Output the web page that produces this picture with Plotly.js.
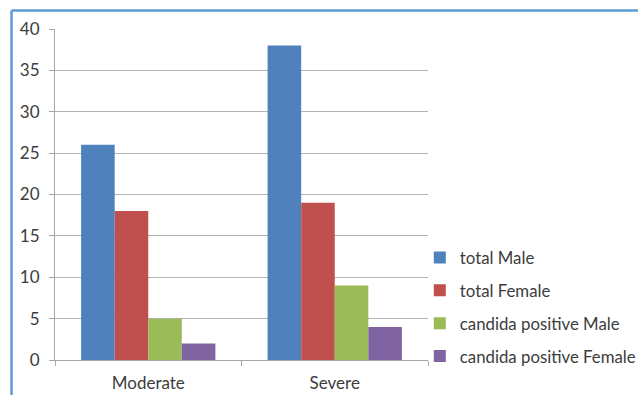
<!DOCTYPE html>
<html>
<head>
<meta charset="utf-8">
<script src="https://cdn.plot.ly/plotly-3.0.1.min.js"></script>
<style>
  html, body { margin: 0; padding: 0; background: #fff; }
  #chart { width: 638px; height: 395px; }
</style>
</head>
<body>
<div id="chart"></div>
<script>
// Severity groups on the x axis
const categories = ["Moderate", "Severe"];

// Counts per group
const totalMale = [26, 38];
const totalFemale = [18, 19];
const candidaPositiveMale = [5, 9];
const candidaPositiveFemale = [2, 4];

const seriesNames = ["total Male", "total Female", "candida positive Male", "candida positive Female"];
const seriesValues = [totalMale, totalFemale, candidaPositiveMale, candidaPositiveFemale];
const seriesColors = ["#4f81bd", "#c0504d", "#9bbb59", "#8064a2"];

const yTicks = [0, 5, 10, 15, 20, 25, 30, 35, 40];

const traces = seriesNames.map((name, i) => ({
  type: "bar",
  name: name,
  x: categories,
  y: seriesValues[i],
  legendgroup: "g" + i,
  marker: { color: seriesColors[i], line: { width: 0 } },
  hoverinfo: "x+y+name"
}));

const fontFamily = "Lato, 'Open Sans', sans-serif";
const textColor = "#3c3c3c";

const layout = {
  width: 638,
  height: 395,
  margin: { l: 55, r: 210, t: 29, b: 35, pad: 0, autoexpand: false },
  paper_bgcolor: "#ffffff",
  plot_bgcolor: "#ffffff",
  barmode: "group",
  bargap: 0.28,
  bargroupgap: 0,
  font: { family: fontFamily, size: 17, color: textColor },
  showlegend: true,
  legend: {
    x: 0.978, xanchor: "left",
    y: 0.16, yanchor: "middle",
    traceorder: "grouped",
    tracegroupgap: 8,
    itemwidth: 30,
    font: { family: fontFamily, size: 16.8, color: textColor },
    bgcolor: "rgba(0,0,0,0)",
    borderwidth: 0
  },
  xaxis: {
    type: "category",
    showgrid: false,
    showline: true,
    linecolor: "#a6a6a6",
    linewidth: 1,
    ticks: "outside",
    tickson: "boundaries",
    ticklen: 5,
    tickcolor: "#a6a6a6",
    ticklabelstandoff: 8,
    tickfont: { family: fontFamily, size: 17, color: textColor },
    zeroline: false
  },
  yaxis: {
    range: [0, 40],
    tickmode: "array",
    tickvals: yTicks,
    ticktext: yTicks.map(String),
    showgrid: true,
    gridcolor: "#b3b3b3",
    gridwidth: 1,
    showline: true,
    linecolor: "#a6a6a6",
    linewidth: 1,
    ticks: "outside",
    ticklen: 5,
    tickcolor: "#a6a6a6",
    ticklabelstandoff: 6,
    tickfont: { family: fontFamily, size: 17, color: textColor },
    zeroline: false
  },
  shapes: [
    // chart frame: top and left edges
    { type: "line", xref: "paper", yref: "paper",
      x0: -0.1166, x1: 1.6, y0: 1.0559, y1: 1.0559,
      line: { color: "#5b9bd5", width: 2.5 } },
    { type: "line", xref: "paper", yref: "paper",
      x0: -0.1166, x1: -0.1166, y0: 1.0559, y1: -0.2,
      line: { color: "#5b9bd5", width: 2.5 } }
  ]
};

Plotly.newPlot("chart", traces, layout, { displayModeBar: false, staticPlot: true });
</script>
</body>
</html>
